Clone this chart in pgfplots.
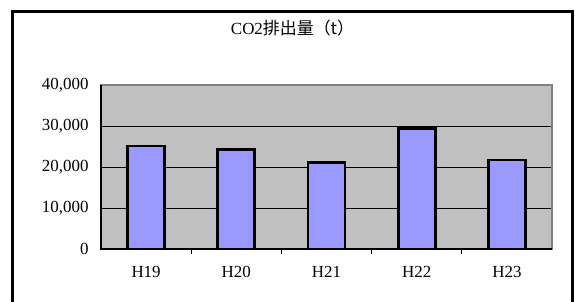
\documentclass[border=0pt]{standalone}
\usepackage{fontspec}
\setmainfont{Liberation Serif}
\usepackage{pgfplots}
\pgfplotsset{compat=1.18}
\newfontfamily\cjk{Noto Sans CJK JP}
\definecolor{barfill}{HTML}{9999FF}
\definecolor{plotbg}{HTML}{C0C0C0}
\definecolor{edgegray}{HTML}{808080}
\begin{document}
\begin{tikzpicture}
\useasboundingbox (-101bp,-53bp) rectangle (474bp,249bp);
\begin{axis}[
  at={(0,0)}, anchor=south west,
  scale only axis, width=451bp, height=164bp,
  xmin=-0.5, xmax=4.5, ymin=0, ymax=40000,
  axis background/.style={fill=plotbg},
  axis line style={edgegray, line width=1.5bp},
  xtick={0,1,2,3,4},
  xticklabels={H19,H20,H21,H22,H23},
  minor xtick={0.5,1.5,2.5,3.5},
  ytick={0,10000,20000,30000,40000},
  tick pos=left, tick align=inside,
  major x tick style={draw=none},
  minor tick length=5bp, major tick length=6bp,
  every tick/.style={black, line width=0.8bp},
  ymajorgrids, major grid style={black, line width=0.8bp},
  /pgf/number format/assume math mode=true,
  /pgf/number format/1000 sep={,},
  scaled y ticks=false,
  tick label style={font=\fontsize{17}{20}\selectfont},
  xticklabel style={yshift=-8bp},
  yticklabel style={xshift=-9bp},
  ybar, bar width=0.41,
  clip=false,
]
\addplot[fill=barfill, draw=black, line width=2.8bp] coordinates {(0,25100) (1,24200) (2,21150) (3,29400) (4,21700)};
\draw[black, line width=1.5bp] (rel axis cs:0,1) -- (rel axis cs:0,0) -- (rel axis cs:1,0);
\end{axis}
\draw[black, line width=3bp] (-88bp,-70bp) -- (-88bp,237.5bp) -- (471bp,237.5bp) -- (471bp,-70bp);
\node[font=\fontsize{17}{20}\selectfont] at (191.5bp,221bp) {CO2\cjk{\fontsize{17}{20}\selectfont 排出量（}t\cjk{\fontsize{17}{20}\selectfont ）}};
\end{tikzpicture}
\end{document}
